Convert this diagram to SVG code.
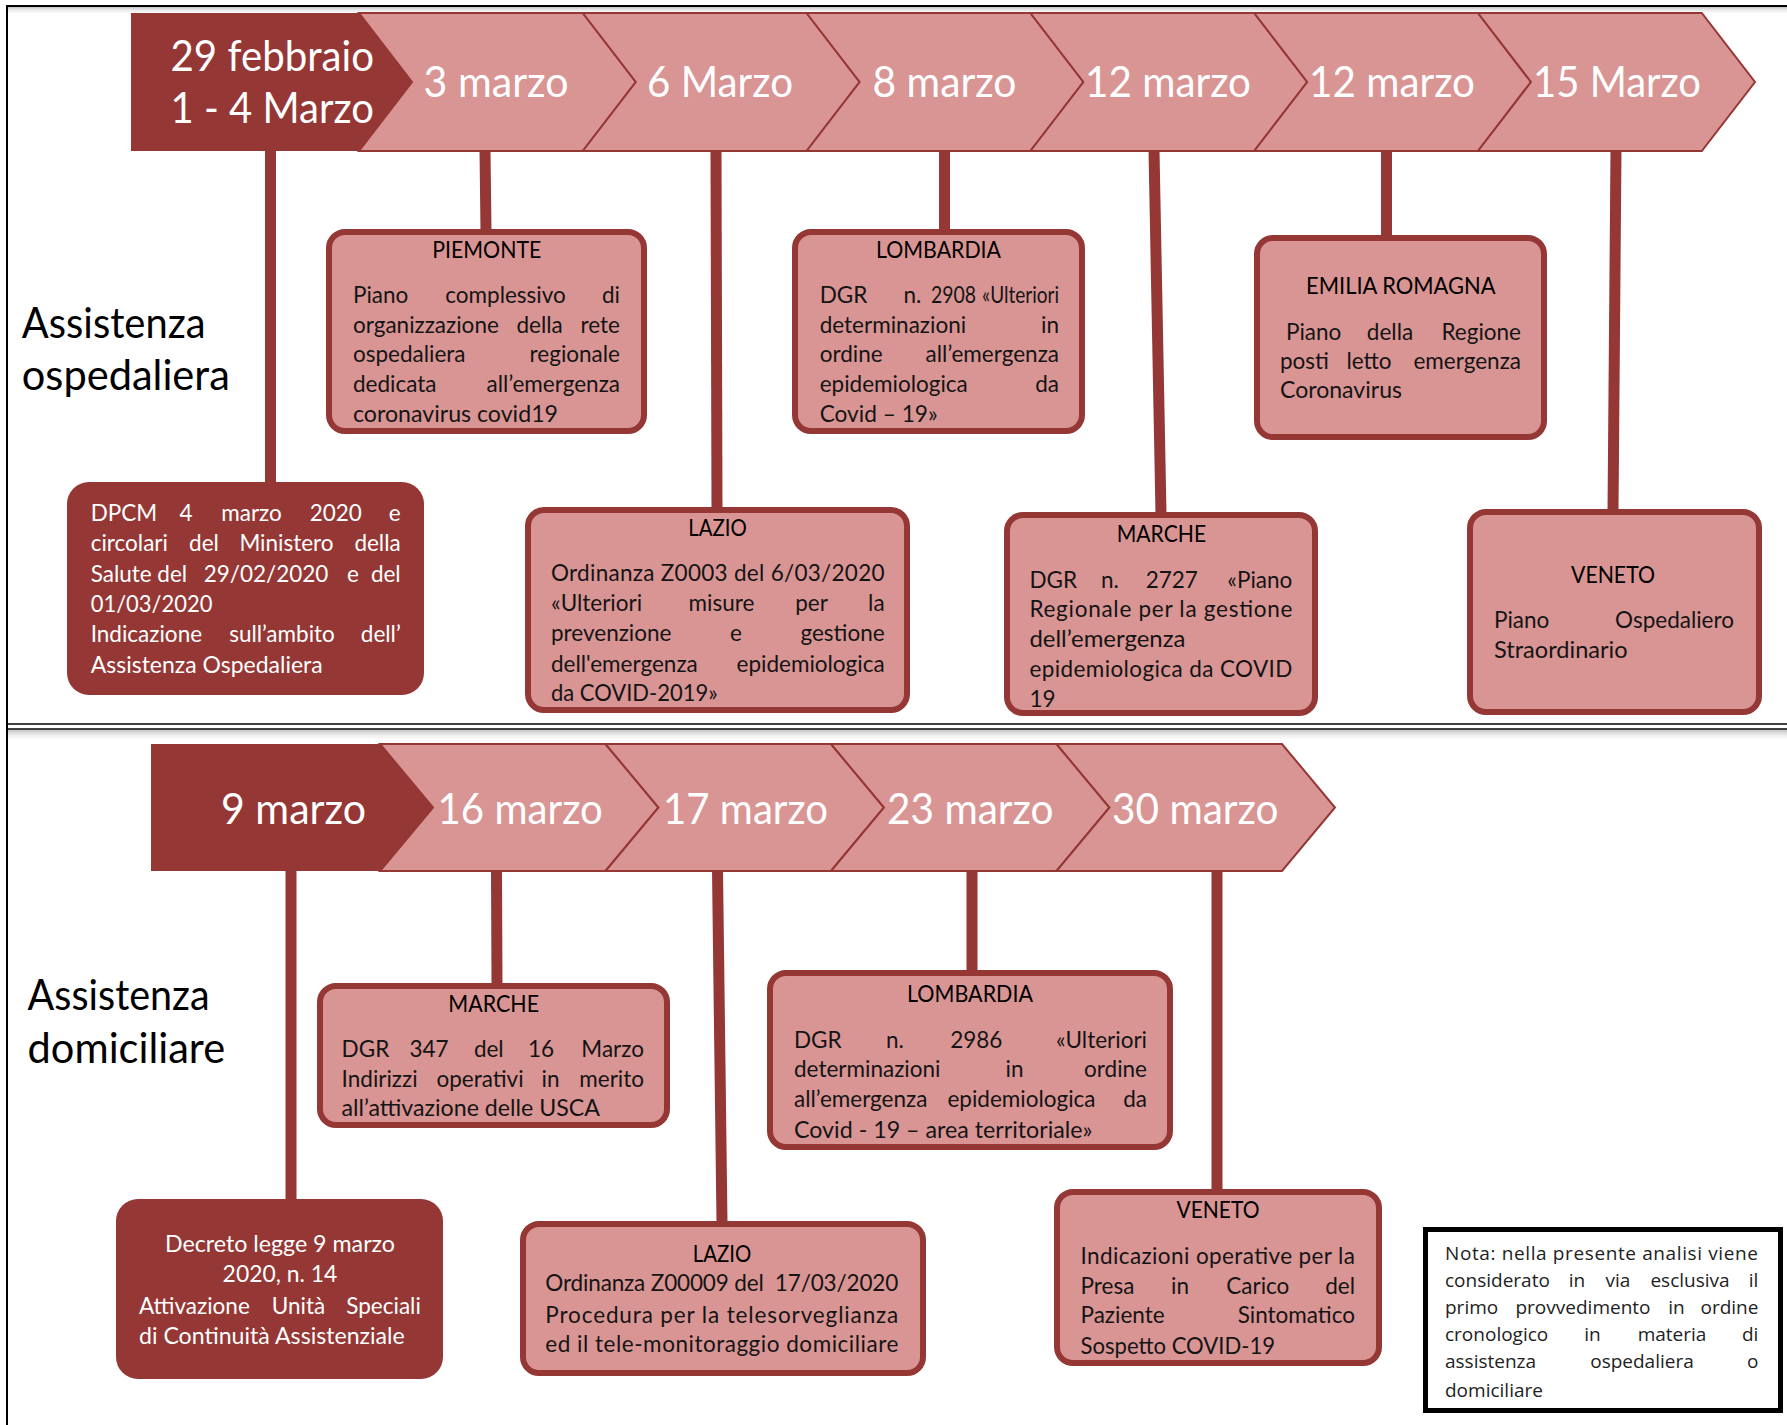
<svg xmlns="http://www.w3.org/2000/svg" width="1787" height="1425" viewBox="0 0 1787 1425">
<defs>
<linearGradient id="sh" x1="0" y1="0" x2="0" y2="1"><stop offset="0" stop-color="#c4c4c4"/><stop offset="1" stop-color="#ffffff" stop-opacity="0"/></linearGradient>
<style>
.dk{fill:#953735}
.chev{fill:#d99594;stroke:#953735;stroke-width:2}
.box{fill:#d99594;stroke:#953735;stroke-width:6}
.dbox{fill:#953735}
.con{stroke:#953735;stroke-width:11;fill:none}
text{font-family:Lato,"Open Sans","Liberation Sans",sans-serif}
.lab{font-size:42px;fill:#ffffff}
.side{font-size:42px;fill:#000000}
.ti{font-size:23px;fill:#000000;text-anchor:middle}
.bd{font-size:22.5px;fill:#141414}
.wh{font-size:22.5px;fill:#ffffff}
.nt{font-family:"Open Sans","Noto Sans",sans-serif;font-size:19px;fill:#222222}
.e{text-anchor:end}
.m{text-anchor:middle}
</style>
</defs>
<rect width="1787" height="1425" fill="#ffffff"/>
<g id="frame">
<rect x="7" y="7" width="1780" height="8" fill="url(#sh)"/>
<rect x="7" y="730" width="1780" height="12" fill="url(#sh)"/>
<line x1="6" y1="6" x2="1787" y2="6" stroke="#000" stroke-width="2"/>
<line x1="7" y1="724" x2="1787" y2="724" stroke="#000" stroke-width="1.6"/>
<line x1="7" y1="729" x2="1787" y2="729" stroke="#000" stroke-width="1.6"/>
<line x1="7" y1="6" x2="7" y2="1425" stroke="#000" stroke-width="2"/>
</g>

<g id="connectors">
<line class="con" x1="270.5" y1="150" x2="270.5" y2="484"/>
<line class="con" x1="485" y1="150" x2="486" y2="231"/>
<line class="con" x1="716" y1="150" x2="717" y2="509"/>
<line class="con" x1="944.5" y1="150" x2="944.5" y2="231"/>
<line class="con" x1="1154" y1="150" x2="1161" y2="514"/>
<line class="con" x1="1386.5" y1="150" x2="1386.5" y2="237"/>
<line class="con" x1="1616" y1="150" x2="1613" y2="511"/>
<line class="con" x1="291" y1="870" x2="291" y2="1201"/>
<line class="con" x1="496.5" y1="870" x2="497" y2="985"/>
<line class="con" x1="717.5" y1="870" x2="722" y2="1223"/>
<line class="con" x1="972" y1="870" x2="972" y2="972"/>
<line class="con" x1="1217" y1="870" x2="1217" y2="1191"/>
</g>

<g id="top-timeline">
<g id="t-3marzo"><polygon class="chev" points="359,13 582.8,13 635.8,82 582.8,151 359,151 412,82"/><text class="lab" x="423.6" y="97" textLength="145" lengthAdjust="spacingAndGlyphs">3 marzo</text></g>
<g id="t-6marzo"><polygon class="chev" points="582.8,13 806.6,13 859.6,82 806.6,151 582.8,151 635.8,82"/><text class="lab" x="647" y="97" textLength="146" lengthAdjust="spacingAndGlyphs">6 Marzo</text></g>
<g id="t-8marzo"><polygon class="chev" points="806.6,13 1030.4,13 1083.4,82 1030.4,151 806.6,151 859.6,82"/><text class="lab" x="872.5" y="97" textLength="144" lengthAdjust="spacingAndGlyphs">8 marzo</text></g>
<g id="t-12marzo-a"><polygon class="chev" points="1030.4,13 1254.2,13 1307.2,82 1254.2,151 1030.4,151 1083.4,82"/><text class="lab" x="1085" y="97" textLength="166" lengthAdjust="spacingAndGlyphs">12 marzo</text></g>
<g id="t-12marzo-b"><polygon class="chev" points="1254.2,13 1478,13 1531,82 1478,151 1254.2,151 1307.2,82"/><text class="lab" x="1309" y="97" textLength="166" lengthAdjust="spacingAndGlyphs">12 marzo</text></g>
<g id="t-15marzo"><polygon class="chev" points="1478,13 1701.8,13 1755,82 1701.8,151 1478,151 1531,82"/><text class="lab" x="1533" y="97" textLength="168" lengthAdjust="spacingAndGlyphs">15 Marzo</text></g>
<g id="t-29feb"><polygon class="dk" points="131,13 359,13 412,82 359,151 131,151"/><text class="lab" x="170.5" y="71" textLength="203.5" lengthAdjust="spacingAndGlyphs">29 febbraio</text><text class="lab" x="170.5" y="123" textLength="203.5" lengthAdjust="spacingAndGlyphs">1 - 4 Marzo</text></g>
</g>

<g id="bottom-timeline">
<g id="b-16marzo"><polygon class="chev" points="380,744 605.5,744 658.5,807.5 605.5,871 380,871 433,807.5"/><text class="lab" x="437.4" y="823.5" textLength="165.4" lengthAdjust="spacingAndGlyphs">16 marzo</text></g>
<g id="b-17marzo"><polygon class="chev" points="605.5,744 831,744 884,807.5 831,871 605.5,871 658.5,807.5"/><text class="lab" x="663" y="823.5" textLength="165" lengthAdjust="spacingAndGlyphs">17 marzo</text></g>
<g id="b-23marzo"><polygon class="chev" points="831,744 1056.5,744 1109.5,807.5 1056.5,871 831,871 884,807.5"/><text class="lab" x="887" y="823.5" textLength="166.5" lengthAdjust="spacingAndGlyphs">23 marzo</text></g>
<g id="b-30marzo"><polygon class="chev" points="1056.5,744 1282,744 1335,807.5 1282,871 1056.5,871 1109.5,807.5"/><text class="lab" x="1112" y="823.5" textLength="166.5" lengthAdjust="spacingAndGlyphs">30 marzo</text></g>
<g id="b-9marzo"><polygon class="dk" points="151,744 380,744 433,807.5 380,871 151,871"/><text class="lab" x="221" y="823.5" textLength="145" lengthAdjust="spacingAndGlyphs">9 marzo</text></g>
</g>

<g id="label-ospedaliera">
<text class="side" x="21.8" y="337.5" textLength="183.7" lengthAdjust="spacingAndGlyphs">Assistenza</text>
<text class="side" x="21.8" y="390" textLength="208" lengthAdjust="spacingAndGlyphs">ospedaliera</text>
</g>
<g id="label-domiciliare">
<text class="side" x="27.6" y="1010.3" textLength="182" lengthAdjust="spacingAndGlyphs">Assistenza</text>
<text class="side" x="27.6" y="1063" textLength="197.5" lengthAdjust="spacingAndGlyphs">domiciliare</text>
</g>

<g id="dpcm">
<rect class="dbox" x="67" y="482" width="357" height="213" rx="22"/>
<text class="wh" y="521"><tspan x="90.7">DPCM</tspan><tspan x="186" class="m">4</tspan><tspan x="251.5" class="m">marzo</tspan><tspan x="335.8" class="m">2020</tspan><tspan x="400.7" class="e">e</tspan></text>
<text class="wh" y="551"><tspan x="90.7">circolari</tspan><tspan x="204" class="m">del</tspan><tspan x="286.5" class="m">Ministero</tspan><tspan x="400.7" class="e">della</tspan></text>
<text class="wh" y="582"><tspan x="90.7">Salute</tspan><tspan x="172.2" class="m">del</tspan><tspan x="266" class="m">29/02/2020</tspan><tspan x="353" class="m">e</tspan><tspan x="400.7" class="e">del</tspan></text>
<text class="wh" x="90.7" y="612" textLength="121.7" lengthAdjust="spacingAndGlyphs">01/03/2020</text>
<text class="wh" y="642"><tspan x="90.7">Indicazione</tspan><tspan x="282" class="m">sull’ambito</tspan><tspan x="400.7" class="e">dell’</tspan></text>
<text class="wh" x="90.7" y="673" textLength="232" lengthAdjust="spacingAndGlyphs">Assistenza Ospedaliera</text>
</g>

<g id="piemonte">
<rect class="box" x="329" y="232" width="315" height="199" rx="16"/>
<text class="ti" x="486.8" y="258" textLength="109" lengthAdjust="spacingAndGlyphs">PIEMONTE</text>
<text class="bd" y="303"><tspan x="353">Piano</tspan><tspan x="505.5" class="m">complessivo</tspan><tspan x="620" class="e">di</tspan></text>
<text class="bd" y="332.5"><tspan x="353">organizzazione</tspan><tspan x="539.6" class="m">della</tspan><tspan x="620" class="e">rete</tspan></text>
<text class="bd" y="362"><tspan x="353">ospedaliera</tspan><tspan x="620" class="e">regionale</tspan></text>
<text class="bd" y="392"><tspan x="353">dedicata</tspan><tspan x="620" class="e">all’emergenza</tspan></text>
<text class="bd" x="353" y="421.5" textLength="205" lengthAdjust="spacingAndGlyphs">coronavirus covid19</text>
</g>

<g id="lombardia-top">
<rect class="box" x="795" y="232" width="287" height="199" rx="16"/>
<text class="ti" x="938.5" y="258" textLength="125" lengthAdjust="spacingAndGlyphs">LOMBARDIA</text>
<text class="bd" x="819.7" y="303">DGR</text>
<text class="bd" x="903.5" y="303">n.</text>
<text class="bd" x="931" y="303" textLength="45" lengthAdjust="spacingAndGlyphs">2908</text>
<text class="bd" x="982" y="303" textLength="77" lengthAdjust="spacingAndGlyphs">«Ulteriori</text>
<text class="bd" y="332.5"><tspan x="819.7">determinazioni</tspan><tspan x="1059" class="e">in</tspan></text>
<text class="bd" y="362"><tspan x="819.7">ordine</tspan><tspan x="1059" class="e">all’emergenza</tspan></text>
<text class="bd" y="392"><tspan x="819.7">epidemiologica</tspan><tspan x="1059" class="e">da</tspan></text>
<text class="bd" x="819.7" y="421.5" textLength="118" lengthAdjust="spacingAndGlyphs">Covid – 19»</text>
</g>

<g id="emilia-romagna">
<rect class="box" x="1257" y="238" width="287" height="199" rx="16"/>
<text class="ti" x="1400.8" y="293.8" textLength="189.5" lengthAdjust="spacingAndGlyphs">EMILIA ROMAGNA</text>
<text class="bd" y="339.5"><tspan x="1286">Piano</tspan><tspan x="1390" class="m">della</tspan><tspan x="1521" class="e">Regione</tspan></text>
<text class="bd" y="369"><tspan x="1280">posti</tspan><tspan x="1369" class="m">letto</tspan><tspan x="1521" class="e">emergenza</tspan></text>
<text class="bd" x="1280" y="398" textLength="122" lengthAdjust="spacingAndGlyphs">Coronavirus</text>
</g>

<g id="lazio-top">
<rect class="box" x="528" y="510" width="379" height="200" rx="16"/>
<text class="ti" x="717.6" y="536" textLength="58.5" lengthAdjust="spacingAndGlyphs">LAZIO</text>
<text class="bd" x="551" y="581" textLength="333.6">Ordinanza Z0003 del 6/03/2020</text>
<text class="bd" y="610.5"><tspan x="551">«Ulteriori</tspan><tspan x="721.5" class="m">misure</tspan><tspan x="811.5" class="m">per</tspan><tspan x="884.6" class="e">la</tspan></text>
<text class="bd" y="640.5"><tspan x="551">prevenzione</tspan><tspan x="736" class="m">e</tspan><tspan x="884.6" class="e">gestione</tspan></text>
<text class="bd" y="671.5"><tspan x="551">dell'emergenza</tspan><tspan x="884.6" class="e">epidemiologica</tspan></text>
<text class="bd" x="551" y="701" textLength="166.6" lengthAdjust="spacingAndGlyphs">da COVID-2019»</text>
</g>

<g id="marche-top">
<rect class="box" x="1007" y="515" width="308" height="198" rx="16"/>
<text class="ti" x="1161.4" y="541.5" textLength="89.5" lengthAdjust="spacingAndGlyphs">MARCHE</text>
<text class="bd" y="587.5"><tspan x="1029.4">DGR</tspan><tspan x="1110" class="m">n.</tspan><tspan x="1171.8" class="m">2727</tspan><tspan x="1292.3" class="e">«Piano</tspan></text>
<text class="bd" x="1029.4" y="617" textLength="263">Regionale per la gestione</text>
<text class="bd" x="1029.4" y="647" textLength="156" lengthAdjust="spacingAndGlyphs">dell’emergenza</text>
<text class="bd" x="1029.4" y="677" textLength="263">epidemiologica da COVID</text>
<text class="bd" x="1029.4" y="706.5">19</text>
</g>

<g id="veneto-top">
<rect class="box" x="1470" y="512" width="289" height="200" rx="16"/>
<text class="ti" x="1613" y="583" textLength="84" lengthAdjust="spacingAndGlyphs">VENETO</text>
<text class="bd" y="628"><tspan x="1494">Piano</tspan><tspan x="1734" class="e">Ospedaliero</tspan></text>
<text class="bd" x="1494" y="657.5" textLength="133.6" lengthAdjust="spacingAndGlyphs">Straordinario</text>
</g>

<g id="decreto">
<rect class="dbox" x="116" y="1199" width="327" height="180" rx="22"/>
<text class="wh m" x="280" y="1252.3" textLength="230" lengthAdjust="spacingAndGlyphs">Decreto legge 9 marzo</text>
<text class="wh m" x="280" y="1282" textLength="114.8" lengthAdjust="spacingAndGlyphs">2020, n. 14</text>
<text class="wh" y="1314"><tspan x="139">Attivazione</tspan><tspan x="298.5" class="m">Unità</tspan><tspan x="420.8" class="e">Speciali</tspan></text>
<text class="wh" x="139" y="1343.5" textLength="265.7" lengthAdjust="spacingAndGlyphs">di Continuità Assistenziale</text>
</g>

<g id="marche-bottom">
<rect class="box" x="320" y="986" width="347" height="139" rx="16"/>
<text class="ti" x="493.7" y="1011.7" textLength="90.7" lengthAdjust="spacingAndGlyphs">MARCHE</text>
<text class="bd" y="1057"><tspan x="341.6">DGR</tspan><tspan x="429" class="m">347</tspan><tspan x="488.8" class="m">del</tspan><tspan x="541" class="m">16</tspan><tspan x="644" class="e">Marzo</tspan></text>
<text class="bd" y="1087.2"><tspan x="341.6">Indirizzi</tspan><tspan x="480" class="m">operativi</tspan><tspan x="550.5" class="m">in</tspan><tspan x="644" class="e">merito</tspan></text>
<text class="bd" x="341.6" y="1116" textLength="258.4" lengthAdjust="spacingAndGlyphs">all’attivazione delle USCA</text>
</g>

<g id="lombardia-bottom">
<rect class="box" x="770" y="973" width="400" height="174" rx="16"/>
<text class="ti" x="970" y="1002.3" textLength="126" lengthAdjust="spacingAndGlyphs">LOMBARDIA</text>
<text class="bd" y="1047.5"><tspan x="794">DGR</tspan><tspan x="895" class="m">n.</tspan><tspan x="976.3" class="m">2986</tspan><tspan x="1147" class="e">«Ulteriori</tspan></text>
<text class="bd" y="1077"><tspan x="794">determinazioni</tspan><tspan x="1014.5" class="m">in</tspan><tspan x="1147" class="e">ordine</tspan></text>
<text class="bd" y="1106.5"><tspan x="794">all’emergenza</tspan><tspan x="1021.5" class="m">epidemiologica</tspan><tspan x="1147" class="e">da</tspan></text>
<text class="bd" x="794" y="1137.5" textLength="298.5" lengthAdjust="spacingAndGlyphs">Covid - 19 – area territoriale»</text>
</g>

<g id="lazio-bottom">
<rect class="box" x="523" y="1224" width="400" height="149" rx="16"/>
<text class="ti" x="722" y="1261.5" textLength="58.5" lengthAdjust="spacingAndGlyphs">LAZIO</text>
<text class="bd" x="545.3" y="1290.5" textLength="353">Ordinanza Z00009 del&#160; 17/03/2020</text>
<text class="bd" x="545.3" y="1322.5" textLength="353">Procedura per la telesorveglianza</text>
<text class="bd" x="545.3" y="1352" textLength="353">ed il tele-monitoraggio domiciliare</text>
</g>

<g id="veneto-bottom">
<rect class="box" x="1057" y="1192" width="322" height="171" rx="16"/>
<text class="ti" x="1218" y="1218.3" textLength="83" lengthAdjust="spacingAndGlyphs">VENETO</text>
<text class="bd" x="1080.5" y="1263.5" textLength="274.5">Indicazioni operative per la</text>
<text class="bd" y="1293.5"><tspan x="1080.5">Presa</tspan><tspan x="1180" class="m">in</tspan><tspan x="1257.8" class="m">Carico</tspan><tspan x="1355" class="e">del</tspan></text>
<text class="bd" y="1323"><tspan x="1080.5">Paziente</tspan><tspan x="1355" class="e">Sintomatico</tspan></text>
<text class="bd" x="1080.5" y="1353.5" textLength="194.6" lengthAdjust="spacingAndGlyphs">Sospetto COVID-19</text>
</g>

<g id="nota">
<rect x="1425.5" y="1229.5" width="355" height="181" fill="#ffffff" stroke="#000000" stroke-width="5"/>
<text class="nt" x="1445" y="1260" textLength="313">Nota: nella presente analisi viene</text>
<text class="nt" y="1287.3"><tspan x="1445">considerato</tspan><tspan x="1577" class="m">in</tspan><tspan x="1618" class="m">via</tspan><tspan x="1690" class="m">esclusiva</tspan><tspan x="1758.4" class="e">il</tspan></text>
<text class="nt" y="1314.3"><tspan x="1445">primo</tspan><tspan x="1583" class="m">provvedimento</tspan><tspan x="1676.5" class="m">in</tspan><tspan x="1758.4" class="e">ordine</tspan></text>
<text class="nt" y="1340.7"><tspan x="1445">cronologico</tspan><tspan x="1592.5" class="m">in</tspan><tspan x="1672" class="m">materia</tspan><tspan x="1758.4" class="e">di</tspan></text>
<text class="nt" y="1368.3"><tspan x="1445">assistenza</tspan><tspan x="1642" class="m">ospedaliera</tspan><tspan x="1758.4" class="e">o</tspan></text>
<text class="nt" x="1445" y="1396.7">domiciliare</text>
</g>
</svg>
